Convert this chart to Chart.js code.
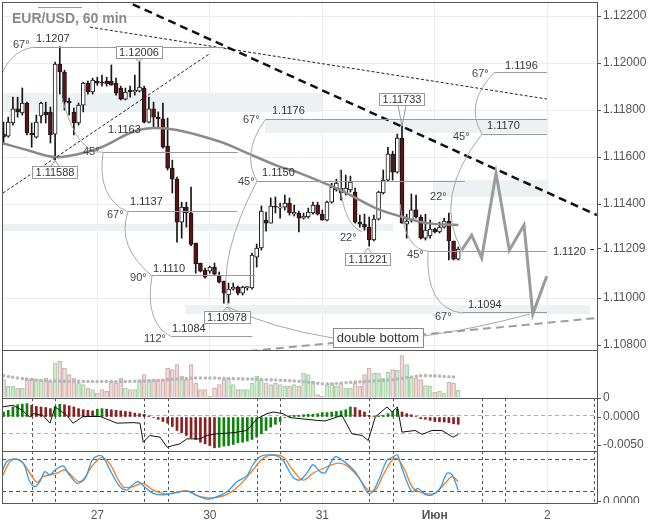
<!DOCTYPE html>
<html>
<head>
<meta charset="utf-8">
<title>EUR/USD, 60 min</title>
<script src="https://cdn.jsdelivr.net/npm/chart.js@4.4.1/dist/chart.umd.min.js"></script>
<style>
  html, body { margin: 0; padding: 0; background: #fff; }
  #wrap { position: relative; width: 650px; height: 525px; overflow: hidden; }
  #wrap canvas { position: absolute; left: 0; }
</style>
</head>
<body>
<div id="wrap">
  <canvas id="priceChart" width="650" height="351" style="top:0px"></canvas>
  <canvas id="volumeChart" width="650" height="56" style="top:350px"></canvas>
  <canvas id="macdChart" width="650" height="53" style="top:398px"></canvas>
  <canvas id="stochChart" width="650" height="74" style="top:451px"></canvas>
</div>
<script>
// ---------- data ----------
const dayLabels = ['27', '30', '31', 'Июн', '2'];
const dayStart = [20, 44, 68, 92, 116];          // bar index where each day starts
const sessionMarks = [6, 11, 30, 35, 54, 59, 78, 83, 102, 107, 126];

const opens = [1.11698,1.11689,1.11745,1.11805,1.11788,1.11830,1.11702,1.11685,1.11775,1.11792,
  1.11792,1.11698,1.11996,1.11962,1.11838,1.11792,1.11745,1.11821,1.11915,1.11877,
  1.11923,1.11919,1.11923,1.11923,1.11915,1.11894,1.11847,1.11885,1.11877,1.11881,
  1.11894,1.11749,1.11805,1.11770,1.11762,1.11647,1.11553,1.11506,1.11323,1.11387,
  1.11362,1.11234,1.11149,1.11119,1.11115,1.11132,1.11094,1.11072,1.11013,1.11038,
  1.11047,1.11021,1.11043,1.11043,1.11174,1.11213,1.11332,1.11319,1.11392,1.11383,
  1.11387,1.11404,1.11357,1.11362,1.11340,1.11345,1.11362,1.11396,1.11357,1.11332,
  1.11408,1.11460,1.11468,1.11447,1.11460,1.11451,1.11323,1.11315,1.11302,1.11247,
  1.11336,1.11447,1.11502,1.11613,1.11536,1.11681,1.11315,1.11332,1.11375,1.11345,
  1.11255,1.11264,1.11294,1.11281,1.11302,1.11328,1.11243,1.11166];
const highs = [1.11749,1.11770,1.11855,1.11855,1.11894,1.11834,1.11745,1.11779,1.11834,1.11834,
  1.11813,1.12004,1.12070,1.11970,1.11851,1.11809,1.11830,1.11919,1.11923,1.11936,
  1.11940,1.11949,1.11940,1.11992,1.11936,1.11902,1.11894,1.11902,1.11949,1.12006,
  1.11902,1.11855,1.11834,1.11792,1.11830,1.11766,1.11587,1.11515,1.11408,1.11408,
  1.11472,1.11234,1.11149,1.11128,1.11136,1.11149,1.11111,1.11072,1.11064,1.11064,
  1.11051,1.11051,1.11047,1.11191,1.11230,1.11392,1.11366,1.11426,1.11430,1.11404,
  1.11438,1.11426,1.11396,1.11370,1.11362,1.11383,1.11408,1.11408,1.11375,1.11413,
  1.11489,1.11506,1.11545,1.11523,1.11519,1.11468,1.11353,1.11357,1.11345,1.11353,
  1.11455,1.11545,1.11642,1.11625,1.11698,1.11733,1.11357,1.11443,1.11438,1.11353,
  1.11357,1.11332,1.11298,1.11323,1.11340,1.11362,1.11243,1.11217];
const lows = [1.11655,1.11685,1.11736,1.11770,1.11779,1.11694,1.11642,1.11681,1.11745,1.11745,
  1.11660,1.11588,1.11868,1.11800,1.11779,1.11694,1.11736,1.11792,1.11868,1.11868,
  1.11906,1.11902,1.11902,1.11906,1.11864,1.11843,1.11843,1.11855,1.11864,1.11877,
  1.11745,1.11745,1.11723,1.11723,1.11638,1.11545,1.11447,1.11238,1.11255,1.11302,
  1.11223,1.11106,1.11111,1.11085,1.11106,1.11098,1.11064,1.10978,1.10979,1.11034,
  1.11013,1.11013,1.11034,1.11038,1.11132,1.11204,1.11285,1.11319,1.11362,1.11340,
  1.11375,1.11353,1.11349,1.11281,1.11336,1.11340,1.11357,1.11353,1.11332,1.11328,
  1.11404,1.11455,1.11417,1.11438,1.11451,1.11319,1.11302,1.11289,1.11221,1.11243,
  1.11332,1.11443,1.11498,1.11502,1.11532,1.11319,1.11255,1.11323,1.11340,1.11251,
  1.11247,1.11255,1.11277,1.11277,1.11298,1.11162,1.11162,1.11162];
const closes = [1.11685,1.11749,1.11805,1.11792,1.11830,1.11702,1.11694,1.11749,1.11830,1.11779,
  1.11694,1.11996,1.11962,1.11834,1.11830,1.11745,1.11821,1.11915,1.11877,1.11928,
  1.11915,1.11915,1.11911,1.11906,1.11872,1.11847,1.11877,1.11877,1.11885,1.11898,
  1.11749,1.11805,1.11770,1.11762,1.11642,1.11553,1.11506,1.11323,1.11387,1.11362,
  1.11228,1.11145,1.11115,1.11089,1.11132,1.11102,1.11068,1.11021,1.11038,1.11047,
  1.11021,1.11047,1.11049,1.11183,1.11213,1.11370,1.11319,1.11392,1.11387,1.11387,
  1.11404,1.11362,1.11366,1.11340,1.11349,1.11366,1.11396,1.11357,1.11332,1.11408,
  1.11472,1.11489,1.11447,1.11468,1.11494,1.11323,1.11315,1.11302,1.11247,1.11336,
  1.11451,1.11502,1.11613,1.11536,1.11681,1.11319,1.11328,1.11375,1.11345,1.11255,
  1.11289,1.11294,1.11281,1.11302,1.11328,1.11243,1.11166,1.11209];

// moving average on price (bar index / value)
const maIdx = [-0.3, 5, 11, 16, 21, 27.6, 31.9, 37, 46.2, 52, 58.3, 63.2, 71.8, 76, 80.3, 85.2, 90.3, 97];
const maVals = [1.11660, 1.11630, 1.11600, 1.11613, 1.11643, 1.11708, 1.11724, 1.11715, 1.11665, 1.11617,
  1.11564, 1.11532, 1.11460, 1.11417, 1.11375, 1.11345, 1.11319, 1.11311];

// projected path after the last bar
const projIdx = [97.74, 99.87, 102.0, 105.06, 107.9, 111.03, 112.9, 115.87];
const projVals = [1.11204, 1.11268, 1.11170, 1.11532, 1.11204, 1.11311, 1.10932, 1.11093];

const volumes = [550,350,350,300,300,550,600,550,550,600,500,1050,1100,900,700,600,450,400,300,250,
  150,250,200,500,450,600,300,250,250,550,700,550,550,550,550,900,850,1000,650,550,
  1000,450,250,250,50,300,400,550,600,400,250,250,250,450,650,550,450,400,450,400,
  350,350,400,350,750,700,500,100,50,400,450,350,450,300,300,450,350,700,900,750,
  750,600,770,850,830,1270,1000,630,600,550,370,350,170,200,150,470,450,230];
const volMaIdx = [0, 3, 6, 10, 28, 35, 42, 49, 56, 63, 69, 72, 78, 83, 87, 90, 97];
const volMaVals = [670, 600, 550, 510, 500, 550, 600, 580, 550, 500, 420, 450, 500, 550, 630, 670, 620];

const macdHist = [0.0009,0.0012,0.0018,0.0022,0.0023,0.0024,0.0021,0.0019,0.0018,0.0017,
  0.0015,0.0019,0.0023,0.0022,0.0020,0.0018,0.0015,0.0013,0.0012,0.0011,
  0.0014,0.0015,0.0014,0.0013,0.0012,0.0011,0.0010,0.0009,0.0007,0.0006,
  0.0005,0.0002,-0.0001,-0.0004,-0.0008,-0.0011,-0.0017,-0.0024,-0.0028,-0.0033,
  -0.0037,-0.0040,-0.0045,-0.0048,-0.0051,-0.0055,-0.0054,-0.0052,-0.0051,-0.0049,
  -0.0046,-0.0045,-0.0043,-0.0040,-0.0036,-0.0030,-0.0024,-0.0018,-0.0013,-0.0008,
  -0.0001,0.0002,0.0003,0.0003,0.0004,0.0005,0.0005,0.0006,0.0008,0.0008,
  0.0009,0.0010,0.0011,0.0013,0.0018,0.0017,0.0012,0.0009,0.0003,0.0001,
  0.0002,0.0003,0.0006,0.0009,0.0014,0.0009,0.0006,0.0004,0.0001,-0.0003,
  -0.0004,-0.0006,-0.0008,-0.00085,-0.0009,-0.0010,-0.0012,-0.0013];
const macdLineIdx = [-0.3,2,4,5.6,6.3,8.4,9.9,11,13.5,14.8,17,20.6,24.2,27.6,29.1,29.8,31.2,33.4,34.9,36.1,
  37.6,39.1,41.9,43.4,45.5,49,51.9,54.1,56.2,57.5,59.6,61.1,66.9,68.6,72.2,74.3,76.5,77.8,79.3,81.8,
  82.9,84,85,87.8,89.3,91.4,93.5,95.9,97];
const macdLineVals = [0.0018,0.0021,0.0012,0,0.0006,0.0003,-0.0011,0.0018,0.0003,-0.0011,
  0.0001,0.0001,-0.0011,-0.0010,-0.0011,-0.0045,-0.0033,-0.0036,-0.0054,-0.0051,
  -0.0048,-0.0039,-0.0039,-0.0033,-0.0030,-0.0028,-0.0024,-0.0003,0.0006,0.0009,
  0.0006,-0.0001,-0.0006,-0.0007,0.0003,-0.0030,-0.0033,-0.0042,0,0.0018,
  0.0009,0.0018,-0.0027,-0.0024,-0.0031,-0.0024,-0.0024,-0.0036,-0.0031];

const stochKIdx = [-0.3,0.7,2.4,4.2,5.6,6.7,7.8,8.8,9.9,11,12.7,13.8,15.7,17.4,18.9,20.1,21.2,22.7,24.8,26.3,
  27.6,28.7,30.6,31.9,34,36.2,39.1,41.3,43.4,45.5,47.7,49.8,51.9,53.2,54.7,56.2,58.3,59.6,61.7,63.2,
  64.7,66,67.5,68.6,70.7,72.8,75,76.5,77.8,78.8,80.3,81.8,82.9,84,85,87.1,88.4,89.9,91.4,93.1,
  94.6,95.7,97];
const stochKVals = [56,75,80,72,37,27.5,38,56,50,59,67,53,34,43,78,86,84,59,27.5,21,
  31,37,23,15,12,15,19,10.5,4,8.6,18,37,48,69,84,87.6,86,78,46,40,
  53,69,56,54,84,74,56,34,15,18,46,78,82.5,87.6,62,18,24.5,13,12,24.5,
  53,50,21];
const stochDIdx = [-0.3,1.4,2.9,4.2,7.1,8.4,11.4,13.1,16.3,19.1,21,22.7,25.5,27.6,29.7,31.9,34.9,39.1,41.9,44.7,
  47.7,50.4,53.2,55.3,57.5,59.6,61.7,63.9,66,67.9,71.4,73.5,75.6,77.8,79.3,81,82.9,84,85.6,87.4,
  89.9,92,94.2,95.7,97];
const stochDVals = [46.5,75,79.5,72,36,46.5,53,59,37,69,83,70,27.5,27.5,34,21,14,20,8.6,6.7,
  13,31,59,81,87.6,84,59,40,53,61,72,65.5,46.5,21,21,50,78,81,59,24.5,
  15,15,34,46.5,37];

const priceTicks = [1.122, 1.120, 1.118, 1.116, 1.114, 1.11209, 1.110, 1.108];
const lastPrice = 1.11209;

// ---------- drawing objects (bar index, price) ----------
const zones = [
  [-0.33, 67.94, 1.11872, 1.11792],
  [55.78, 115.94, 1.11760, 1.11702],
  [-0.33, 83.08, 1.11315, 1.11285],
  [91.6, 115.94, 1.11502, 1.11430],
  [38.71, 125.1, 1.10970, 1.10932]
];
const levels = [
  [1.12238, 7.35, 16.74], [1.1207, 6.28, 47.24], [1.1162, 21.22, 50.0], [1.1137, 26.55, 49.8],
  [1.1110, 31.67, 53.64], [1.1084, 35.94, 53.0], [1.1150, 54.07, 98.4], [1.1176, 55.78, 115.94],
  [1.1196, 104.84, 115.94], [1.1170, 102.07, 115.94], [1.1120, 90.55, 115.94], [1.1094, 97.8, 115.94]
];
const levelTexts = [
  ['1.1207', 6.92, 1.12102], ['1.1163', 22.28, 1.11715], ['1.1137', 26.98, 1.11409],
  ['1.1110', 31.88, 1.11123], ['1.1084', 35.94, 1.10868], ['1.1176', 57.27, 1.11796],
  ['1.1150', 55.14, 1.11532], ['1.1196', 106.97, 1.11987], ['1.1170', 103.14, 1.11732],
  ['1.1120', 117.2, 1.11196], ['1.1094', 99.08, 1.10970]
];
const angleTexts = [
  ['67°', 2.0, 1.12077], ['45°', 16.95, 1.11621], ['67°', 22.07, 1.11353], ['90°', 26.98, 1.11085],
  ['112°', 29.96, 1.10826], ['67°', 51.08, 1.11758], ['45°', 50.0, 1.11494], ['22°', 71.77, 1.11255],
  ['45°', 86.07, 1.11183], ['67°', 92.04, 1.10919], ['22°', 90.98, 1.11430], ['45°', 95.88, 1.11685],
  ['67°', 99.94, 1.11953]
];
const arcs = [
  [[6.28, 1.12068], [0.95, 1.12047], [-0.76, 1.11928]],
  [[12.47, 1.11851], [15.78, 1.11609], [21.22, 1.11621]],
  [[21.22, 1.11621], [19.83, 1.11426], [26.55, 1.11366]],
  [[26.55, 1.11366], [23.99, 1.11221], [31.67, 1.11094]],
  [[31.67, 1.11094], [29.96, 1.10892], [35.94, 1.10834]],
  [[55.78, 1.11758], [50.66, 1.11615], [54.07, 1.11498]],
  [[54.07, 1.11498], [45.64, 1.11175], [47.88, 1.10970]],
  [[71.77, 1.11545], [71.77, 1.11323], [76.47, 1.11281]],
  [[84.6, 1.11400], [85.64, 1.11204], [90.55, 1.11200]],
  [[90.55, 1.11200], [89.91, 1.10958], [97.8, 1.10936]],
  [[102.07, 1.11698], [91.4, 1.11426], [97.8, 1.11204]],
  [[104.84, 1.11962], [98.12, 1.11830], [102.07, 1.11698]],
  [[47.88, 1.10962], [56.74, 1.10874], [70.28, 1.10830]],
  [[89.48, 1.10838], [100.26, 1.10868], [112.3, 1.10932]]
];
const priceTags = [
  ['1.11588', 10.98, 1.11536, 1.11587],
  ['1.12006', 28.9, 1.12047, 1.12008],
  ['1.11733', 85.0, 1.11847, 1.11732],
  ['1.10978', 47.67, 1.10919, 1.10962],
  ['1.11221', 77.75, 1.11166, 1.11213]
];
const noteBox = ['double bottom', 79.88, 1.10832];

const X_MIN = -0.33, X_MAX = 126.6;
const FONT = '"Liberation Sans", Arial, sans-serif';
Chart.defaults.font.family = FONT;
Chart.defaults.animation = false;

const barIdx = opens.map((_, i) => i);
const isUp = barIdx.map(i => closes[i] >= opens[i]);
const pts = (xs, ys) => xs.map((v, i) => ({x: v, y: ys[i]}));

// ---------- plugin for boxes, levels, arcs and labels ----------
function overlay(cfg) {
  return {
    id: 'overlay',
    beforeDatasetsDraw(chart) {
      const {ctx, chartArea: a, scales: {x, y}} = chart;
      ctx.save();
      ctx.beginPath();
      ctx.rect(a.left, a.top, a.right - a.left, a.bottom - a.top);
      ctx.clip();
      (cfg.zones || []).forEach(z => {
        const x0 = x.getPixelForValue(z[0]), x1 = x.getPixelForValue(z[1]);
        const y0 = y.getPixelForValue(z[2]), y1 = y.getPixelForValue(z[3]);
        ctx.fillStyle = '#ecf1f4';
        ctx.fillRect(x0, y0, x1 - x0, y1 - y0);
      });
      ctx.lineWidth = 1;
      (cfg.hLines || []).forEach(h => {
        const yy = Math.round(y.getPixelForValue(h.v)) + 0.5;
        ctx.strokeStyle = h.color;
        ctx.setLineDash([4, 3]);
        ctx.beginPath(); ctx.moveTo(a.left, yy); ctx.lineTo(a.right, yy); ctx.stroke();
      });
      (cfg.vLines || []).forEach(v => {
        const xx = Math.round(x.getPixelForValue(v)) + 0.5;
        ctx.strokeStyle = '#555';
        ctx.setLineDash([3, 3]);
        ctx.beginPath(); ctx.moveTo(xx, a.top); ctx.lineTo(xx, a.bottom); ctx.stroke();
      });
      ctx.restore();
    },
    afterDatasetsDraw(chart) {
      const {ctx, chartArea: a, scales: {x, y}} = chart;
      if (!cfg.main) return;
      const X = v => x.getPixelForValue(v), Y = v => y.getPixelForValue(v);
      ctx.save();
      ctx.beginPath();
      ctx.rect(a.left, a.top, a.right - a.left, a.bottom - a.top);
      ctx.clip();

      ctx.lineWidth = 1;
      ctx.strokeStyle = '#9a9a9a';
      levels.forEach(l => {
        const yy = Math.round(Y(l[0])) + 0.5;
        ctx.beginPath(); ctx.moveTo(X(l[1]), yy); ctx.lineTo(X(l[2]), yy); ctx.stroke();
      });
      ctx.strokeStyle = '#a8a8a8';
      arcs.forEach(c => {
        ctx.beginPath();
        ctx.moveTo(X(c[0][0]), Y(c[0][1]));
        ctx.quadraticCurveTo(X(c[1][0]), Y(c[1][1]), X(c[2][0]), Y(c[2][1]));
        ctx.stroke();
      });

      ctx.font = '11px ' + FONT;
      ctx.textBaseline = 'middle';
      ctx.textAlign = 'left';
      ctx.fillStyle = '#333';
      levelTexts.forEach(t => ctx.fillText(t[0], X(t[1]), Y(t[2])));
      ctx.fillStyle = '#444';
      angleTexts.forEach(t => ctx.fillText(t[0], X(t[1]), Y(t[2])));

      // price tags with pointer
      ctx.textAlign = 'center';
      priceTags.forEach(t => {
        const cx = Math.round(X(t[1])), cy = Y(t[2]), tip = Y(t[3]);
        const w = Math.round(ctx.measureText(t[0]).width) + 6, h = 12;
        const left = cx - Math.round(w / 2) + 0.5, top = Math.round(cy - h / 2) + 0.5;
        const edge = tip < cy ? top : top + h;
        ctx.fillStyle = '#fff';
        ctx.strokeStyle = '#999';
        ctx.fillRect(left, top, w, h);
        ctx.strokeRect(left, top, w, h);
        ctx.beginPath();
        ctx.moveTo(cx - 4, edge); ctx.lineTo(cx, tip); ctx.lineTo(cx + 4, edge);
        ctx.stroke();
        ctx.fillStyle = '#333';
        ctx.fillText(t[0], cx, top + h / 2 + 0.5);
      });

      // note box
      ctx.font = '13px ' + FONT;
      const nx = Math.round(X(noteBox[1])), ny = Y(noteBox[2]);
      const nw = Math.round(ctx.measureText(noteBox[0]).width) + 8, nh = 19;
      ctx.fillStyle = '#fff';
      ctx.strokeStyle = '#888';
      ctx.fillRect(nx - nw / 2 + 0.5, Math.round(ny - nh / 2) + 0.5, nw, nh);
      ctx.strokeRect(nx - nw / 2 + 0.5, Math.round(ny - nh / 2) + 0.5, nw, nh);
      ctx.fillStyle = '#333';
      ctx.fillText(noteBox[0], nx, ny + 1);

      // title
      ctx.font = 'bold 14px ' + FONT;
      ctx.textAlign = 'left';
      ctx.textBaseline = 'alphabetic';
      ctx.fillStyle = '#8a8a8a';
      ctx.fillText('EUR/USD, 60 min', a.left + 10, a.top + 21);
      ctx.restore();

      // marker for last price on the axis
      const lp = Math.round(Y(lastPrice)) + 0.5;
      ctx.save();
      ctx.strokeStyle = '#333';
      ctx.beginPath(); ctx.moveTo(a.right - 7, lp); ctx.lineTo(a.right - 3, lp); ctx.stroke();
      ctx.restore();
    },
    afterDraw(chart) {
      const {ctx, chartArea: a} = chart;
      ctx.save();
      if (cfg.cover) {
        // the lowest axis label is cut by the panel edge, as in the source chart
        ctx.fillStyle = '#fff';
        ctx.fillRect(a.right + 1, a.bottom, chart.width - a.right, chart.height - a.bottom);
      }
      ctx.strokeStyle = '#555';
      ctx.lineWidth = 1;
      ctx.strokeRect(Math.round(a.left) + 0.5, Math.round(a.top) + 0.5,
        Math.round(a.right - a.left), Math.round(a.bottom - a.top));
      ctx.restore();
    }
  };
}

// scales add half a label of padding at their ends; this layout wants none
function noPad(s) {
  s.paddingTop = 0; s.paddingBottom = 0; s.paddingLeft = 0; s.paddingRight = 0;
}

function xScale(showLabels) {
  return {
    type: 'linear', min: X_MIN, max: X_MAX, offset: false,
    afterBuildTicks: s => { s.ticks = dayStart.map(v => ({value: v})); },
    afterFit: s => { s.height = showLabels ? 22 : 0; noPad(s); },
    grid: {color: '#ebebeb', drawTicks: false, offset: false},
    border: {display: false},
    ticks: {
      display: showLabels, autoSkip: false, maxRotation: 0, padding: 5, color: '#555',
      callback: v => dayLabels[dayStart.indexOf(v)],
      font: c => ({size: 12, weight: (c.tick && c.tick.label === 'Июн') ? 'bold' : 'normal'})
    }
  };
}

function yScale(min, max, ticks, fmt, gridOn) {
  return {
    position: 'right', min: min, max: max,
    afterBuildTicks: s => { s.ticks = ticks.map(v => ({value: v})); },
    afterFit: s => { s.width = 53; noPad(s); },
    grid: {
      color: c => (gridOn && c.tick && c.tick.value !== lastPrice) ? '#ebebeb' : 'rgba(0,0,0,0)',
      tickColor: '#555', tickLength: 4
    },
    border: {color: '#555'},
    ticks: {autoSkip: false, padding: 2, color: '#555', font: {size: 12}, callback: fmt}
  };
}

const baseOpts = (pad, scales) => ({
  responsive: false,
  animation: false,
  layout: {padding: pad, autoPadding: false},
  plugins: {legend: {display: false}, tooltip: {enabled: false}},
  scales: scales
});

// ---------- price panel ----------
new Chart(document.getElementById('priceChart'), {
  type: 'bar',
  data: {
    datasets: [
      {type: 'line', data: pts(projIdx, projVals), borderColor: '#9b9b9b', borderWidth: 3,
        pointRadius: 0, tension: 0, order: 0},
      {type: 'line', data: pts([20, 126.6], [1.12319, 1.11353]), borderColor: '#111', borderWidth: 2.5,
        borderDash: [8, 5], pointRadius: 0, order: 0},
      {type: 'line', data: pts([18.44, 115.94], [1.12153, 1.11847]), borderColor: '#222', borderWidth: 1,
        borderDash: [3, 2], pointRadius: 0, order: 0},
      {type: 'line', data: pts([-0.12, 43.8], [1.11447, 1.12038]), borderColor: '#222', borderWidth: 1,
        borderDash: [3, 2], pointRadius: 0, order: 0},
      {type: 'line', data: pts([52.56, 126.6], [1.10775, 1.10915]), borderColor: '#9d9d9d', borderWidth: 2,
        borderDash: [8, 5], pointRadius: 0, order: 0},
      {type: 'line', data: pts(maIdx, maVals), borderColor: '#8a8a8a', borderWidth: 2.5,
        pointRadius: 0, tension: 0.4, order: 1},
      {data: barIdx.map(i => ({x: i, y: [opens[i], closes[i]]})),
        backgroundColor: barIdx.map(i => isUp[i] ? '#ffffff' : '#5e1212'),
        borderColor: '#161616', borderWidth: 1, borderSkipped: false,
        barThickness: 4, minBarLength: 1, grouped: false, order: 2},
      {data: barIdx.map(i => ({x: i, y: [lows[i], highs[i]]})),
        backgroundColor: '#161616', barThickness: 1, grouped: false, order: 3}
    ]
  },
  options: baseOpts({left: 2, top: 2, right: 0, bottom: 1}, {
    x: xScale(false),
    y: yScale(1.10779, 1.12260, priceTicks, v => v.toFixed(5), true)
  }),
  plugins: [overlay({main: true, zones: zones})]
});

// ---------- volume panel ----------
new Chart(document.getElementById('volumeChart'), {
  type: 'bar',
  data: {
    datasets: [
      {type: 'line', data: pts(volMaIdx, volMaVals), borderColor: '#b8b8b8', borderWidth: 3.6,
        borderDash: [0, 4.7], borderCapStyle: 'round', pointRadius: 0, tension: 0.4, order: 0},
      {data: barIdx.map(i => ({x: i, y: volumes[i]})),
        backgroundColor: barIdx.map(i => isUp[i] ? 'rgba(200,230,200,0.7)' : 'rgba(236,214,214,0.8)'),
        borderColor: barIdx.map(i => isUp[i] ? '#a9d3a9' : '#d2aeae'),
        borderWidth: 1, barThickness: 4, grouped: false, order: 1}
    ]
  },
  options: baseOpts({left: 2, top: 0, right: 0, bottom: 8}, {
    x: xScale(false),
    y: yScale(0, 1440, [0], v => String(v), false)
  }),
  plugins: [overlay({})]
});

// ---------- MACD panel ----------
new Chart(document.getElementById('macdChart'), {
  type: 'bar',
  data: {
    datasets: [
      {type: 'line', data: pts(macdLineIdx, macdLineVals), borderColor: '#111', borderWidth: 1,
        pointRadius: 0, tension: 0, order: 0},
      {data: barIdx.map(i => ({x: i, y: macdHist[i]})),
        backgroundColor: barIdx.map(i => (i === 0 || macdHist[i] >= macdHist[i - 1]) ? '#0a840a' : '#8b1f1f'),
        barThickness: 2, grouped: false, order: 1}
    ]
  },
  options: baseOpts({left: 2, top: 0, right: 0, bottom: 0}, {
    x: xScale(false),
    y: yScale(-0.00607, 0.0034, [0, -0.005], v => v.toFixed(4), false)
  }),
  plugins: [overlay({vLines: sessionMarks, hLines: [{v: 0.0003, color: '#b0b0b0'}, {v: -0.0029, color: '#b0b0b0'}]})]
});

// ---------- stochastic panel ----------
new Chart(document.getElementById('stochChart'), {
  type: 'line',
  data: {
    datasets: [
      {data: pts(stochKIdx, stochKVals), borderColor: '#2f9cf0', borderWidth: 1.3, pointRadius: 0, tension: 0.3},
      {data: pts(stochDIdx, stochDVals), borderColor: '#f67a1e', borderWidth: 1.3, pointRadius: 0, tension: 0.35}
    ]
  },
  options: baseOpts({left: 2, top: 0, right: 0, bottom: 0}, {
    x: xScale(true),
    y: yScale(-3.3, 95, [0], v => v.toFixed(4), false)
  }),
  plugins: [overlay({vLines: sessionMarks, hLines: [{v: 80, color: '#555'}, {v: 20, color: '#555'}], cover: true})]
});
</script>
</body>
</html>
